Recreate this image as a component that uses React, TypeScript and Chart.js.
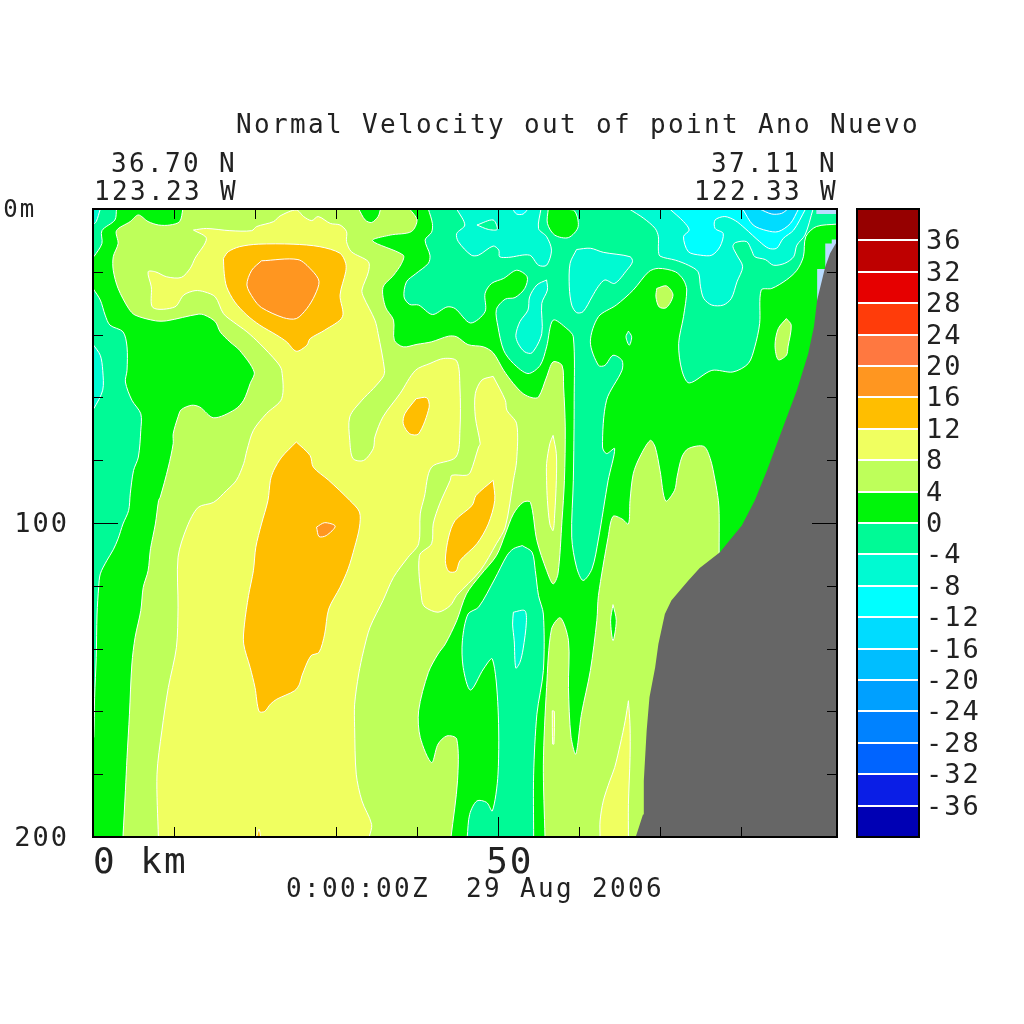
import React, { useEffect, useRef } from "react";
import { Chart, registerables } from "chart.js";

Chart.register(...registerables);

type P = [number, number];

const xMaxKm = 91.85;
const depthMax = 200;
const xTickLabels: Record<number, string> = { 0: "    0 km", 50: " 50" };
const yTickLabels: Record<number, string> = { 0: "0m  ", 100: "100", 200: "200" };
const titleText = "Normal Velocity out of point Ano Nuevo";
const leftLat = "36.70 N";
const leftLon = "123.23 W";
const rightLat = "37.11 N";
const rightLon = "122.33 W";
const timeText = "0:00:00Z  29 Aug 2006";

const levels = [-40, -36, -32, -28, -24, -20, -16, -12, -8, -4, 0, 4, 8, 12, 16, 20, 24, 28, 32, 36, 40];
const palette = ["#0000b4", "#0a1ee6", "#0064ff", "#0082ff", "#00a0ff", "#00beff", "#00dcff", "#00ffff", "#00fad2", "#00fa96", "#00f50a", "#beff5a", "#f0ff60", "#ffbe00", "#ff9620", "#ff7840", "#ff3c0a", "#e60000", "#be0000", "#960000"];
const cM20 = palette[5], cM16 = palette[6], cM12 = palette[7], cM8 = palette[8], cM4 = palette[9];
const c0 = palette[10], c4 = palette[11], c8 = palette[12], c12 = palette[13], c16 = palette[14];
const terrainColor = "#666666";
const paleColor = "#b9dcff";

const basePlot: P[] = [[0, 0], [91.85, 0], [91.85, 200], [0, 200]];
const tealTopLeft: P[] = [[0, 0], [2.9, 0], [2.7, 3.5], [1.1, 6.9], [1.1, 11], [0.1, 15.2], [0, 15.2]];
const cyanCorner: P[] = [[0, 0], [0.9, 0], [0.4, 4], [0, 5]];
const tealLeft: P[] = [[0, 25.3], [0.9, 29], [1.5, 33.8], [2.1, 37], [3.7, 39.1], [4.2, 43.9], [4.2, 51.4], [4, 55.1], [4.8, 60.9], [5.9, 65.2], [5.9, 70.5], [5.6, 79], [5, 83.3], [4.6, 90.7], [4.4, 96], [3.7, 100.3], [3.1, 105], [2.5, 108.5], [1.7, 112], [0.9, 116.2], [0.7, 120.5], [0.5, 129], [0.4, 142.8], [0.2, 155.5], [0.1, 168.3], [0, 168.3]];
const cyanLeft: P[] = [[0, 43.1], [0.9, 46.6], [1.2, 51.4], [1.2, 57.7], [0.1, 63.6], [0, 63.6]];
const lightMain: P[] = [[11.1, 0], [10.7, 4], [9.5, 5.1], [8.1, 5.1], [6.8, 4], [5.6, 1.9], [4.6, 4], [2.9, 6.9], [3.1, 11], [2.5, 15.2], [2.5, 19.5], [3.1, 25.3], [4.4, 31.7], [5.2, 33.8], [7.7, 35.6], [9.1, 35.6], [13, 33.5], [13.8, 33.8], [15.1, 35.9], [15.7, 39.1], [16.9, 42.3], [18.1, 45], [19.9, 51.9], [19.4, 55.6], [18.6, 60.9], [17.5, 63.9], [14.9, 66.5], [13.2, 63.1], [12.2, 62.5], [10.9, 63.9], [10.5, 66.2], [9.9, 71.6], [9.9, 74.7], [9.3, 82.2], [8.3, 91.8], [8.1, 92.8], [7.7, 100.3], [7.1, 108.2], [6.8, 115.2], [6.2, 120.5], [5.9, 127.9], [5.2, 136.4], [4.8, 144.9], [4.5, 160.9], [4.2, 174.7], [4, 185.3], [3.7, 200], [44.2, 200], [45, 182.1], [44.9, 168.8], [43.7, 167.8], [42.6, 170.4], [41.8, 176.3], [40.4, 168.3], [40.2, 159.8], [41.4, 147.6], [42.6, 141.7], [43.5, 138.5], [44.9, 131.1], [46.1, 122.6], [47.8, 116.7], [49.8, 110.4], [50.9, 103.5], [51.9, 97.1], [53.1, 93.4], [54, 93.4], [54.8, 105.6], [56, 115.1], [56.8, 119.4], [57.4, 116.2], [57.9, 99.2], [58.2, 86.4], [58.3, 69.4], [58.1, 56.7], [57.9, 49.8], [56.8, 48.7], [56, 53.5], [55, 59.9], [54.2, 60.1], [53.1, 58.8], [51.9, 55.6], [50.7, 51.4], [49.4, 45.8], [48.2, 43.9], [46.3, 43.2], [44.9, 40.7], [43.9, 40.5], [41.8, 42.3], [40, 43.1], [38.3, 43.9], [37.2, 41.8], [37.1, 35.4], [36.1, 31.2], [35.8, 25], [37.1, 21.1], [38.1, 17.3], [38.3, 14.7], [34.5, 10.1], [36.7, 8.3], [39.3, 7.2], [40, 3.5], [39.1, 0]];
const greenTopA: P[] = [[32.8, 0], [33.6, 3.5], [34.4, 4.3], [35.2, 2.4], [35.5, 0]];
const yellowMain: P[] = [[12.4, 6.7], [14, 6.2], [16.9, 6.9], [19.6, 6.9], [20.2, 5.6], [22.3, 4], [23.1, 2.2], [25.1, 0.3], [26, 2.4], [27, 3.7], [27.8, 2.4], [29.3, 4.6], [30.5, 5.1], [31.3, 7.2], [31.3, 10.4], [31.9, 13.6], [34, 16.8], [34, 20], [33.2, 25.8], [33.4, 28], [34.8, 35.4], [35.2, 39.7], [36, 51.4], [35.8, 53.5], [34.6, 57.2], [33.2, 60.9], [31.7, 66.2], [31.7, 73.7], [32.1, 79.5], [33.4, 80.1], [34.6, 76.3], [34.8, 72.6], [35.8, 66.2], [37.9, 58.8], [39.8, 51.4], [41.6, 49.2], [43.3, 47.6], [44.9, 48.4], [45.3, 56.7], [45.3, 70.5], [44.8, 79], [41.8, 82.2], [40.9, 91.8], [40.4, 97.1], [40.2, 106.6], [38.9, 110.9], [37.1, 117.3], [35.8, 124.7], [34.2, 133.2], [33.4, 140.7], [32.8, 148.1], [32.3, 157.7], [32.3, 165.1], [32.5, 180], [33.2, 188.5], [34.4, 196], [34.1, 200], [8.07, 200], [7.9, 180], [8.5, 166.2], [9.3, 152.4], [10.3, 139.6], [10.5, 126.8], [10.5, 110.9], [11.6, 101.3], [13, 95], [14.9, 93.4], [16.5, 89.6], [17.7, 86.4], [18.6, 81.1], [19, 76.9], [19.8, 70.5], [21.4, 65.2], [23.3, 60.4], [23.3, 51.4], [22.7, 48.7], [20.6, 42.9], [19, 39.1], [17.3, 35.9], [16.1, 33.3], [15.1, 28], [13.8, 26.4], [12.6, 26], [11.2, 27.4], [10.1, 31.2], [7.4, 31.4], [7.2, 24.8], [6.8, 20], [7.7, 20], [9.1, 21.6], [10.9, 21.8], [12, 18.9], [12.6, 15.7], [14, 9.4]];
const orangeTop: P[] = [[16.1, 15.7], [16.7, 13.6], [18.1, 12], [20.4, 11.2], [24.7, 11.2], [28, 12], [30.5, 14.1], [31.2, 17.3], [31.2, 20], [30.5, 27.4], [30.8, 34.3], [28.6, 38.6], [26.8, 41.3], [26.4, 43.4], [25.1, 45.3], [23.9, 42.3], [22.7, 40.2], [20.6, 37], [19, 33.8], [17.5, 29.6], [16.5, 24.8], [16.2, 20.5]];
const darkOrangeTop: P[] = [[20.8, 16.5], [25.3, 16.1], [27, 19.5], [27.9, 23], [27.4, 27.4], [26.4, 31.7], [25.1, 34.9], [23.5, 34.6], [20.8, 31.4], [19.8, 28.5], [19, 24.2], [19.6, 19.5]];
const orangeBig: P[] = [[25.1, 74.2], [26.8, 78.5], [27.2, 82.2], [29.1, 86.4], [31.7, 92.8], [32.9, 96.5], [32.9, 101.3], [32.3, 107.7], [31.5, 114.6], [30.5, 120.5], [29.1, 127.4], [28.6, 135.4], [27.9, 141.2], [26.9, 142.3], [25.8, 148.6], [25.5, 151.3], [24.9, 153.4], [22.7, 156.1], [21.9, 157.7], [21.2, 160], [20.5, 160], [20, 152.4], [19.4, 146], [18.6, 138.5], [18.7, 132.2], [19.2, 123.1], [19.8, 115.2], [20.1, 107.7], [20.8, 100.3], [21.6, 92.8], [21.9, 86.4], [22.3, 83.3], [23.3, 79]];
const darkOrangeSmall: P[] = [[27.6, 101.3], [28.6, 99.9], [29.9, 101], [28.8, 104], [27.9, 104.3]];
const orangeSmall: P[] = [[39.9, 60.4], [41.2, 60.1], [41.5, 63.1], [40.2, 71.6], [39.1, 71.6], [38.3, 68.4], [38.5, 65.2]];
const yellowSecond: P[] = [[49.4, 53.3], [50.9, 60.9], [51.1, 64.1], [52.3, 68.4], [52.3, 80.1], [51.9, 86.4], [50.9, 101.3], [49.8, 106.6], [47.8, 115.2], [44.9, 123.1], [44.1, 126.3], [42.6, 128.4], [41, 126.8], [40.6, 124.7], [40.3, 110.4], [41.8, 106.6], [42, 100.3], [42.8, 93.9], [44.1, 86.4], [44.3, 84.8], [46.1, 84.8], [46.6, 83.8], [47.6, 75.8], [47.8, 74.7], [47.2, 66.2], [47.2, 58.8], [48, 54.5]];
const orangeMid: P[] = [[49.4, 86.4], [49.6, 92.8], [48.8, 100.3], [47.4, 106.6], [45.3, 112], [44.8, 115.4], [43.9, 115.4], [43.5, 112], [43.9, 104.5], [44.7, 99.2], [46.8, 94.4], [47.3, 91.2]];
const orangeTiny: P[] = [[20.2, 200], [20.5, 197.5], [20.7, 200]];
const yellowNarrow: P[] = [[56.8, 72.1], [57.2, 77.9], [57.2, 86.4], [57, 97.1], [56.8, 102.4], [56.4, 100.3], [56.1, 92.8], [56, 86.4], [56, 81.1], [56.4, 74.7]];
const lightRight: P[] = [[55.8, 200], [55.6, 176.8], [56, 152.4], [56.6, 133.8], [57.7, 130.2], [58.7, 137.5], [58.7, 152.4], [59, 167.8], [59.6, 173.6], [60.3, 160.9], [61.4, 147], [62.2, 131.1], [62.4, 123.1], [63.6, 104.5], [64.2, 97.9], [65.3, 98.7], [66.1, 100.3], [66.3, 92.8], [66.7, 84.3], [67.5, 79], [68.8, 73.7], [69.4, 75.8], [70, 83.3], [70.7, 93], [71.8, 89.6], [72.1, 85.4], [72.7, 79], [73.5, 76.3], [75.4, 75.6], [76.2, 79.5], [76.8, 86.4], [77.2, 92.8], [77.3, 97], [77.3, 109.3], [77.3, 200]];
const yellowSliver: P[] = [[56.7, 159.8], [56.95, 160], [56.9, 170.4], [56.75, 170.4]];
const yellowBottom: P[] = [[66.1, 156.6], [66.3, 164.6], [66.3, 174.7], [66.1, 189.6], [66.1, 200], [62.6, 200], [62.6, 194.9], [63, 188.5], [63.8, 182.1], [64.4, 177.9], [65.1, 170.4], [65.7, 163]];
const greenSpot: P[] = [[64.2, 126], [64.6, 131.1], [64.2, 137.5], [63.9, 131.1]];
const tealMain: P[] = [[41.4, 0], [41.9, 4.6], [41.8, 7.4], [41, 9.9], [41.6, 14.7], [41.4, 17.3], [39.8, 20.7], [38.7, 23.2], [38.4, 28], [39.1, 30.4], [40.2, 30.6], [41.9, 33.6], [43.7, 31.2], [44.7, 31.7], [46.6, 36.3], [48.4, 32.7], [48.4, 26.9], [49.2, 23.7], [50.7, 22.1], [52.3, 19.5], [53.6, 21.6], [53.3, 25.3], [52.1, 28.2], [50.9, 28.7], [49.8, 32], [50, 37.5], [50.7, 45], [51.9, 49.2], [53.7, 52.4], [55.2, 49.8], [56, 43.9], [56.8, 35.4], [58.5, 38.1], [59.3, 40.7], [59.4, 60.9], [59.3, 86.4], [59.1, 104.5], [59.7, 114.1], [60.5, 118.3], [61.6, 114.6], [62.4, 105.1], [63.6, 86.4], [64.4, 76.3], [63.4, 77.9], [62.9, 75.8], [63.4, 60.9], [65.3, 51.4], [65.3, 48.2], [64.2, 46.6], [63.2, 49.8], [62.4, 49.8], [61.4, 42.3], [62.4, 34.3], [64.6, 30.6], [66.7, 25.8], [68.6, 20], [69.8, 18.9], [71.9, 20], [72.9, 22.6], [73.3, 25.8], [72.9, 34.3], [72.3, 42.9], [72.7, 51.4], [73.6, 55.4], [76.4, 51.4], [79, 51.9], [80.9, 49.2], [81.7, 43.9], [82.3, 36.5], [82.5, 25.8], [83.8, 25.3], [85.6, 22.6], [86.9, 19.5], [87.7, 15.2], [88, 8.8], [89.3, 5.6], [91.85, 4.8], [91.85, 0]];
const greenTopB: P[] = [[56.2, 0], [56.1, 4.6], [57, 8.3], [58.7, 9.1], [59.9, 5.6], [59.3, 0.3]];
const tealLower: P[] = [[53, 107.2], [54.2, 109.3], [54.6, 115.1], [55, 123.1], [55.6, 129], [55.6, 147], [54.8, 160.9], [54.4, 180], [54.4, 200], [46.2, 200], [46.5, 192.8], [47.4, 188.5], [48.6, 189], [49.3, 191.7], [50, 180], [50, 158.7], [49.3, 143.3], [48.2, 146.5], [46.6, 153.2], [45.7, 146], [45.6, 137.5], [46.3, 129], [47.6, 126.8], [49.6, 117.8], [51.1, 110.4], [51.9, 108.2]];
const cyanLower: P[] = [[51.9, 128.4], [53.3, 127.9], [53.5, 131.6], [53.1, 140.1], [52.7, 144.4], [52.2, 146.2], [52, 137.5], [51.8, 132.2]];
const cyanTopA: P[] = [[44.9, 0], [45.9, 5.1], [44.9, 7.8], [45.1, 10.4], [46.7, 14.7], [47.6, 14.7], [49.4, 11.8], [50.1, 13.1], [50.2, 15.2], [51.3, 15.4], [53.9, 14.7], [55, 17.9], [56, 17.9], [56.6, 13.1], [56, 8.8], [55, 6.2], [55.3, 0]];
const tealHole: P[] = [[47.4, 5.1], [49.4, 3.5], [49.9, 6.5], [48.8, 6.5]];
const brightTopA: P[] = [[51.8, 0], [52.3, 1.6], [53.1, 1.6], [53.7, 0]];
const cyanTopB: P[] = [[59.7, 12.9], [61.4, 12.5], [63, 13.8], [66.3, 15.2], [66.6, 16.8], [65.9, 19.5], [64.4, 23.7], [63.2, 22.6], [62.4, 24.6], [61.6, 28], [60.5, 32.7], [59.7, 33], [59.1, 30.6], [58.8, 24.8], [58.9, 17.3]];
const cyanMid: P[] = [[56, 22.6], [56.1, 25.8], [55.4, 30.1], [55.4, 39.7], [54.2, 45.8], [53.3, 45.5], [52.5, 42.9], [52.2, 40.2], [52.7, 35.9], [53.7, 32.2], [53.9, 28], [54.8, 24.2]];
const cyanTopC: P[] = [[66.2, 0], [68, 3], [69.4, 6.2], [69.8, 8.8], [69.8, 13.1], [70, 15], [71.9, 16.3], [73.5, 17.9], [74.7, 20], [75, 24.8], [75.4, 28.5], [76.4, 30.6], [77.8, 30.6], [78.8, 28.5], [79.5, 23.2], [80.2, 18.4], [79.5, 14.7], [79, 12], [79.3, 10.7], [80.7, 10.4], [81.3, 13.1], [81.7, 15.2], [83, 16.1], [84, 17.9], [85.4, 17.3], [86.5, 15.2], [86.9, 11.5], [87.9, 8.3], [88.9, 0]];
const brightTopC: P[] = [[71.2, 0], [72.9, 4], [73.6, 6.7], [72.9, 8.8], [73.5, 13.6], [75, 14.7], [76.4, 14.7], [77.4, 12], [77.8, 7.8], [76.8, 6.2], [76.8, 3.5], [78, 2.4], [79.3, 3.7], [80.5, 6.2], [82.3, 10.4], [83.4, 12.5], [84.4, 12.5], [85.2, 9.4], [86.5, 6.7], [87.9, 0.3], [87.9, 0]];
const blueTop: P[] = [[80.2, 0], [81.5, 5.1], [83.2, 6.9], [84.6, 7.2], [86.1, 4.6], [87.1, 0]];
const deepBlueTop: P[] = [[82.3, 0], [83.8, 1.6], [85, 1.4], [85.8, 0]];
const tealSpot: P[] = [[66.1, 38.9], [66.5, 40.7], [66.2, 43.4], [65.8, 40.7]];
const lightSpotA: P[] = [[69.6, 25.3], [70.8, 24.5], [71.6, 27.4], [70.8, 31.4], [69.9, 31.2], [69.5, 28]];
const lightSpotB: P[] = [[85.6, 34.9], [86.2, 37], [85.8, 43.9], [85.6, 46.6], [84.6, 48], [84.2, 43.4], [84.6, 38.1]];
const paleCoast: P[] = [[89.4, 19.1], [90.4, 19.1], [90.4, 11], [91.2, 11], [91.2, 9.7], [91.85, 9.7], [91.85, 20], [89.4, 30]];
const paleTop: P[] = [[89.3, 0], [91.85, 0], [91.85, 1.6], [89.3, 1.6]];
const terrain: P[] = [[67, 200], [67.9, 192.8], [68, 182.1], [68.35, 166.2], [68.7, 155.5], [69.4, 146], [69.8, 138.5], [70.6, 129], [71.4, 124.7], [73.5, 118.3], [74.9, 114.3], [77.4, 109.3], [78.4, 106.1], [80.1, 100.8], [81.7, 92.8], [83.2, 83.3], [85.2, 69.4], [86.9, 57.7], [88.3, 46], [89, 37.5], [89.4, 29], [90.4, 18.4], [91, 14.1], [91.7, 11], [91.85, 11], [91.85, 200]];

const regions: [P[], string, boolean][] = [
  [basePlot, c0, false],
  [tealTopLeft, cM4, true], [cyanCorner, cM8, true], [tealLeft, cM4, true], [cyanLeft, cM8, true],
  [lightMain, c4, true], [greenTopA, c0, true], [yellowMain, c8, true],
  [orangeTop, c12, true], [darkOrangeTop, c16, true], [orangeBig, c12, true], [darkOrangeSmall, c16, true],
  [orangeSmall, c12, true], [yellowSecond, c8, true], [orangeMid, c12, true], [orangeTiny, c12, true], [yellowNarrow, c8, true],
  [lightRight, c4, true], [yellowSliver, c8, true], [yellowBottom, c8, true], [greenSpot, c0, true],
  [tealMain, cM4, true], [greenTopB, c0, true], [tealLower, cM4, true], [cyanLower, cM8, true],
  [cyanTopA, cM8, true], [tealHole, cM4, true], [brightTopA, cM12, true], [cyanTopB, cM8, true], [cyanMid, cM8, true],
  [cyanTopC, cM8, true], [brightTopC, cM12, true], [blueTop, cM16, true], [deepBlueTop, cM20, true],
  [tealSpot, cM4, true], [lightSpotA, c4, true], [lightSpotB, c4, true],
  [paleCoast, paleColor, false], [paleTop, paleColor, false], [terrain, terrainColor, false],
];

const FONT = '"DejaVu Sans Mono", monospace';
const INK = "#222222";

// Points on the plot edge are doubled so the smoothed outline keeps a sharp corner there.
const onEdge = ([x, y]: P) => x <= 0 || x >= xMaxKm || y <= 0 || y >= depthMax;
const closedPath = (pts: P[]) =>
  [...pts, pts[0]].flatMap((p) => (onEdge(p) ? [p, p] : [p])).map(([x, y]) => ({ x, y }));

const frameAndTicks = {
  id: "frameAndTicks",
  beforeDraw(chart: any) {
    chart.ctx.letterSpacing = "2px";
  },
  afterDraw(chart: any) {
    const { ctx, chartArea: a, scales } = chart;
    ctx.save();
    ctx.strokeStyle = "#000";
    ctx.lineWidth = 1;
    ctx.beginPath();
    for (const t of scales.x.ticks) {
      const px = Math.round(scales.x.getPixelForValue(t.value)) + 0.5;
      if (t.value === 0) continue;
      const len = t.value === 50 ? 20 : 10;
      ctx.moveTo(px, a.top);
      ctx.lineTo(px, a.top + len);
      ctx.moveTo(px, a.bottom);
      ctx.lineTo(px, a.bottom - len);
    }
    for (const t of scales.y.ticks) {
      if (t.value === 0 || t.value === depthMax) continue;
      const py = Math.round(scales.y.getPixelForValue(t.value)) + 0.5;
      const len = t.value === 100 ? 25 : 10;
      ctx.moveTo(a.left, py);
      ctx.lineTo(a.left + len, py);
      ctx.moveTo(a.right, py);
      ctx.lineTo(a.right - len, py);
    }
    ctx.stroke();
    ctx.lineWidth = 2;
    ctx.strokeRect(a.left, a.top, a.right - a.left, a.bottom - a.top);
    ctx.fillStyle = INK;
    ctx.textAlign = "left";
    ctx.textBaseline = "alphabetic";
    ctx.font = `26px ${FONT}`;
    ctx.letterSpacing = "2.35px";
    ctx.fillText(titleText, 236, 133);
    ctx.fillText(leftLat, 111, 172);
    ctx.fillText(leftLon, 94, 200);
    ctx.fillText(rightLat, 711, 172);
    ctx.fillText(rightLon, 694, 200);
    ctx.fillText(timeText, 286, 897);
    ctx.restore();
  },
};

const barFrame = {
  id: "barFrame",
  beforeDraw(chart: any) {
    chart.ctx.letterSpacing = "2px";
  },
  afterDraw(chart: any) {
    const { ctx, chartArea: a } = chart;
    ctx.save();
    ctx.strokeStyle = "#000";
    ctx.lineWidth = 2;
    ctx.strokeRect(a.left, a.top, a.right - a.left, a.bottom - a.top);
    ctx.restore();
  },
};

export default function App() {
  const mainRef = useRef<HTMLCanvasElement>(null);
  const barRef = useRef<HTMLCanvasElement>(null);

  useEffect(() => {
    const main = new Chart(mainRef.current!, {
      type: "scatter",
      data: {
        datasets: regions.map(([pts, color, outlined], i) => ({
          label: `region ${i}`,
          data: closedPath(pts),
          showLine: true,
          fill: "shape",
          tension: outlined ? 0.3 : 0,
          pointRadius: 0,
          backgroundColor: color,
          borderColor: outlined ? "#ffffff" : color,
          borderWidth: outlined ? 1 : 0,
          order: regions.length - i,
        })),
      },
      options: {
        animation: false,
        responsive: false,
        events: [],
        layout: { padding: { top: 209, right: 187, bottom: 0, left: 0 } },
        plugins: { legend: { display: false }, tooltip: { enabled: false } },
        scales: {
          x: {
            type: "linear",
            min: 0,
            max: xMaxKm,
            grid: { display: false },
            border: { display: false },
            afterBuildTicks: (s: any) => {
              s.ticks = s.ticks.filter((t: any) => t.value % 10 === 0);
            },
            afterFit: (s: any) => {
              s.height = 187;
            },
            ticks: {
              stepSize: 10,
              autoSkip: false,
              maxRotation: 0,
              padding: -3,
              color: INK,
              font: { family: FONT, size: 36 },
              callback: (v: any) => xTickLabels[v] ?? "",
            },
          },
          y: {
            type: "linear",
            reverse: true,
            min: 0,
            max: depthMax,
            grid: { display: false },
            border: { display: false },
            afterFit: (s: any) => {
              s.width = 93;
            },
            ticks: {
              stepSize: 20,
              autoSkip: false,
              padding: 16,
              labelOffset: 2,
              color: INK,
              font: (c: any) => ({ family: FONT, size: c.tick && c.tick.value === 0 ? 24 : 27 }),
              callback: (v: any) => yTickLabels[v] ?? "",
            },
          },
        },
      } as any,
      plugins: [frameAndTicks],
    });

    const bar = new Chart(barRef.current!, {
      type: "bar",
      data: {
        labels: ["velocity"],
        datasets: palette.map((color, i) => ({
          label: `${levels[i]} to ${levels[i + 1]}`,
          data: [[levels[i], levels[i + 1]]],
          backgroundColor: color,
          borderWidth: 0,
          barPercentage: 1,
          categoryPercentage: 1,
        })),
      } as any,
      options: {
        animation: false,
        responsive: false,
        events: [],
        layout: { padding: { top: 209, right: 0, bottom: 187, left: 857 } },
        plugins: { legend: { display: false }, tooltip: { enabled: false } },
        scales: {
          x: { display: false, stacked: true },
          y: {
            position: "right",
            min: -40,
            max: 40,
            grid: { color: "#ffffff", lineWidth: 2, drawTicks: false, z: 1 },
            border: { display: false },
            afterFit: (s: any) => {
              s.width = 105;
            },
            ticks: {
              stepSize: 4,
              autoSkip: false,
              padding: 7,
              labelOffset: 2,
              color: INK,
              font: { family: FONT, size: 27 },
              callback: (v: any) => (v === 40 || v === -40 ? "" : String(v)),
            },
          },
        },
      } as any,
      plugins: [barFrame],
    });

    return () => {
      main.destroy();
      bar.destroy();
    };
  }, []);

  const layer: React.CSSProperties = { position: "absolute", left: 0, top: 0, width: 1024, height: 1024 };
  return (
    <div style={{ position: "absolute", left: 0, top: 0, width: 1024, height: 1024, overflow: "hidden", background: "#fff" }}>
      <canvas ref={mainRef} width={1024} height={1024} style={layer} />
      <canvas ref={barRef} width={1024} height={1024} style={layer} />
    </div>
  );
}
